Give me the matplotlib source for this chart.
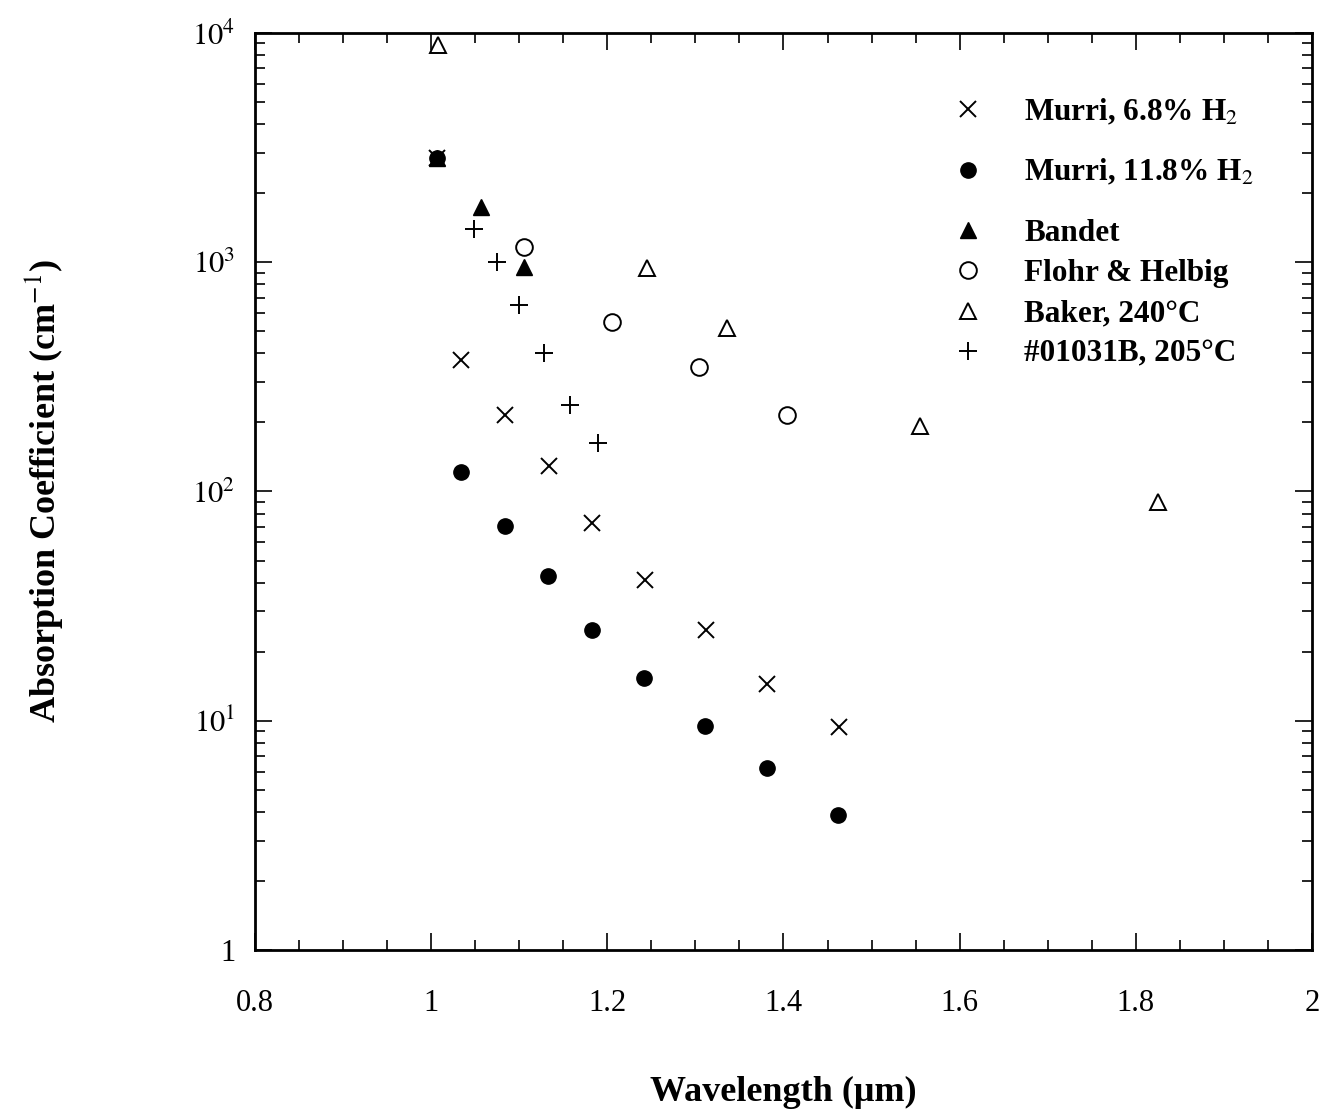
import numpy as np
import matplotlib.pyplot as plt
from matplotlib.ticker import FuncFormatter, MultipleLocator, LogLocator, NullFormatter

plt.rcParams['font.family'] = ['Liberation Serif', 'DejaVu Serif']
plt.rcParams['mathtext.fontset'] = 'stix'

# data
murri68_x = [1.007, 1.034, 1.084, 1.134, 1.183, 1.243, 1.312, 1.381, 1.463]
murri68_y = [2850, 373, 215, 129, 73, 41, 25, 14.5, 9.4]

murri118_x = [1.007, 1.034, 1.084, 1.133, 1.183, 1.242, 1.311, 1.381, 1.462]
murri118_y = [2850, 122, 71, 43, 25, 15.4, 9.5, 6.2, 3.9]

bandet_x = [1.007, 1.057, 1.106]
bandet_y = [2850, 1740, 951]

flohr_x = [1.106, 1.205, 1.304, 1.404]
flohr_y = [1163, 547, 348, 215]

baker_x = [1.008, 1.245, 1.336, 1.555, 1.825]
baker_y = [8870, 941, 515, 194, 90]

s01031b_x = [1.049, 1.075, 1.100, 1.128, 1.158, 1.189]
s01031b_y = [1393, 1000, 649, 401, 238, 162]

fig = plt.figure(figsize=(13.23, 11.14), dpi=100)
ax = fig.add_axes([0.1927, 0.1472, 0.799, 0.8232])

h1, = ax.plot(murri68_x, murri68_y, 'x', color='k', ms=11, mew=1.4, label='Murri, 6.8% H$_2$')
h2, = ax.plot(murri118_x, murri118_y, 'o', color='k', ms=11, label='Murri, 11.8% H$_2$')
h3, = ax.plot(bandet_x, bandet_y, '^', color='k', ms=11, label='Bandet')
h4, = ax.plot(flohr_x, flohr_y, 'o', mfc='white', mec='k', ms=12, mew=1.4, label='Flohr & Helbig')
h5, = ax.plot(baker_x, baker_y, '^', mfc='white', mec='k', ms=12, mew=1.4, label='Baker, 240°C')
h6, = ax.plot(s01031b_x, s01031b_y, '+', color='k', ms=13, mew=1.4, label='#01031B, 205°C')

ax.set_yscale('log')
ax.set_xlim(0.8, 2.0)
ax.set_ylim(1, 1e4)

ax.xaxis.set_major_locator(MultipleLocator(0.2))
ax.xaxis.set_minor_locator(MultipleLocator(0.05))
ax.xaxis.set_major_formatter(FuncFormatter(lambda v, p: '%g' % round(v, 2)))
ax.yaxis.set_major_locator(LogLocator(base=10, numticks=10))
ax.yaxis.set_minor_locator(LogLocator(base=10, subs=np.arange(2, 10), numticks=20))
ax.yaxis.set_minor_formatter(NullFormatter())
ax.yaxis.set_major_formatter(FuncFormatter(lambda v, p: '1' if v == 1 else r'$10^{%d}$' % int(round(np.log10(v)))))

ax.tick_params(which='both', direction='in', top=True, right=True, width=1.2)
ax.tick_params(which='major', length=12, labelsize=22)
ax.tick_params(axis='x', which='major', pad=28)
ax.tick_params(axis='y', which='major', pad=14)
ax.tick_params(which='minor', length=7)
for s in ax.spines.values():
    s.set_linewidth(2)

ax.set_xlabel('Wavelength (μm)', fontsize=26, fontweight='bold', labelpad=42)
ax.set_ylabel('Absorption Coefficient (cm$^{-1}$)', fontsize=26, fontweight='bold', labelpad=92)

leg_font = {'size': 22.5, 'weight': 'bold'}
leg1 = ax.legend(handles=[h1, h2], loc='upper left', bbox_to_anchor=(0.66, 0.93),
                 frameon=False, prop=leg_font, handlelength=1.0, handletextpad=1.3,
                 labelspacing=0.97, borderpad=0, borderaxespad=0, numpoints=1)
ax.add_artist(leg1)
ax.legend(handles=[h3, h4, h5, h6], loc='upper left', bbox_to_anchor=(0.66, 0.797),
          frameon=False, prop=leg_font, handlelength=1.0, handletextpad=1.3,
          labelspacing=0.36, borderpad=0, borderaxespad=0, numpoints=1)

fig.savefig('out.png', dpi=100)
